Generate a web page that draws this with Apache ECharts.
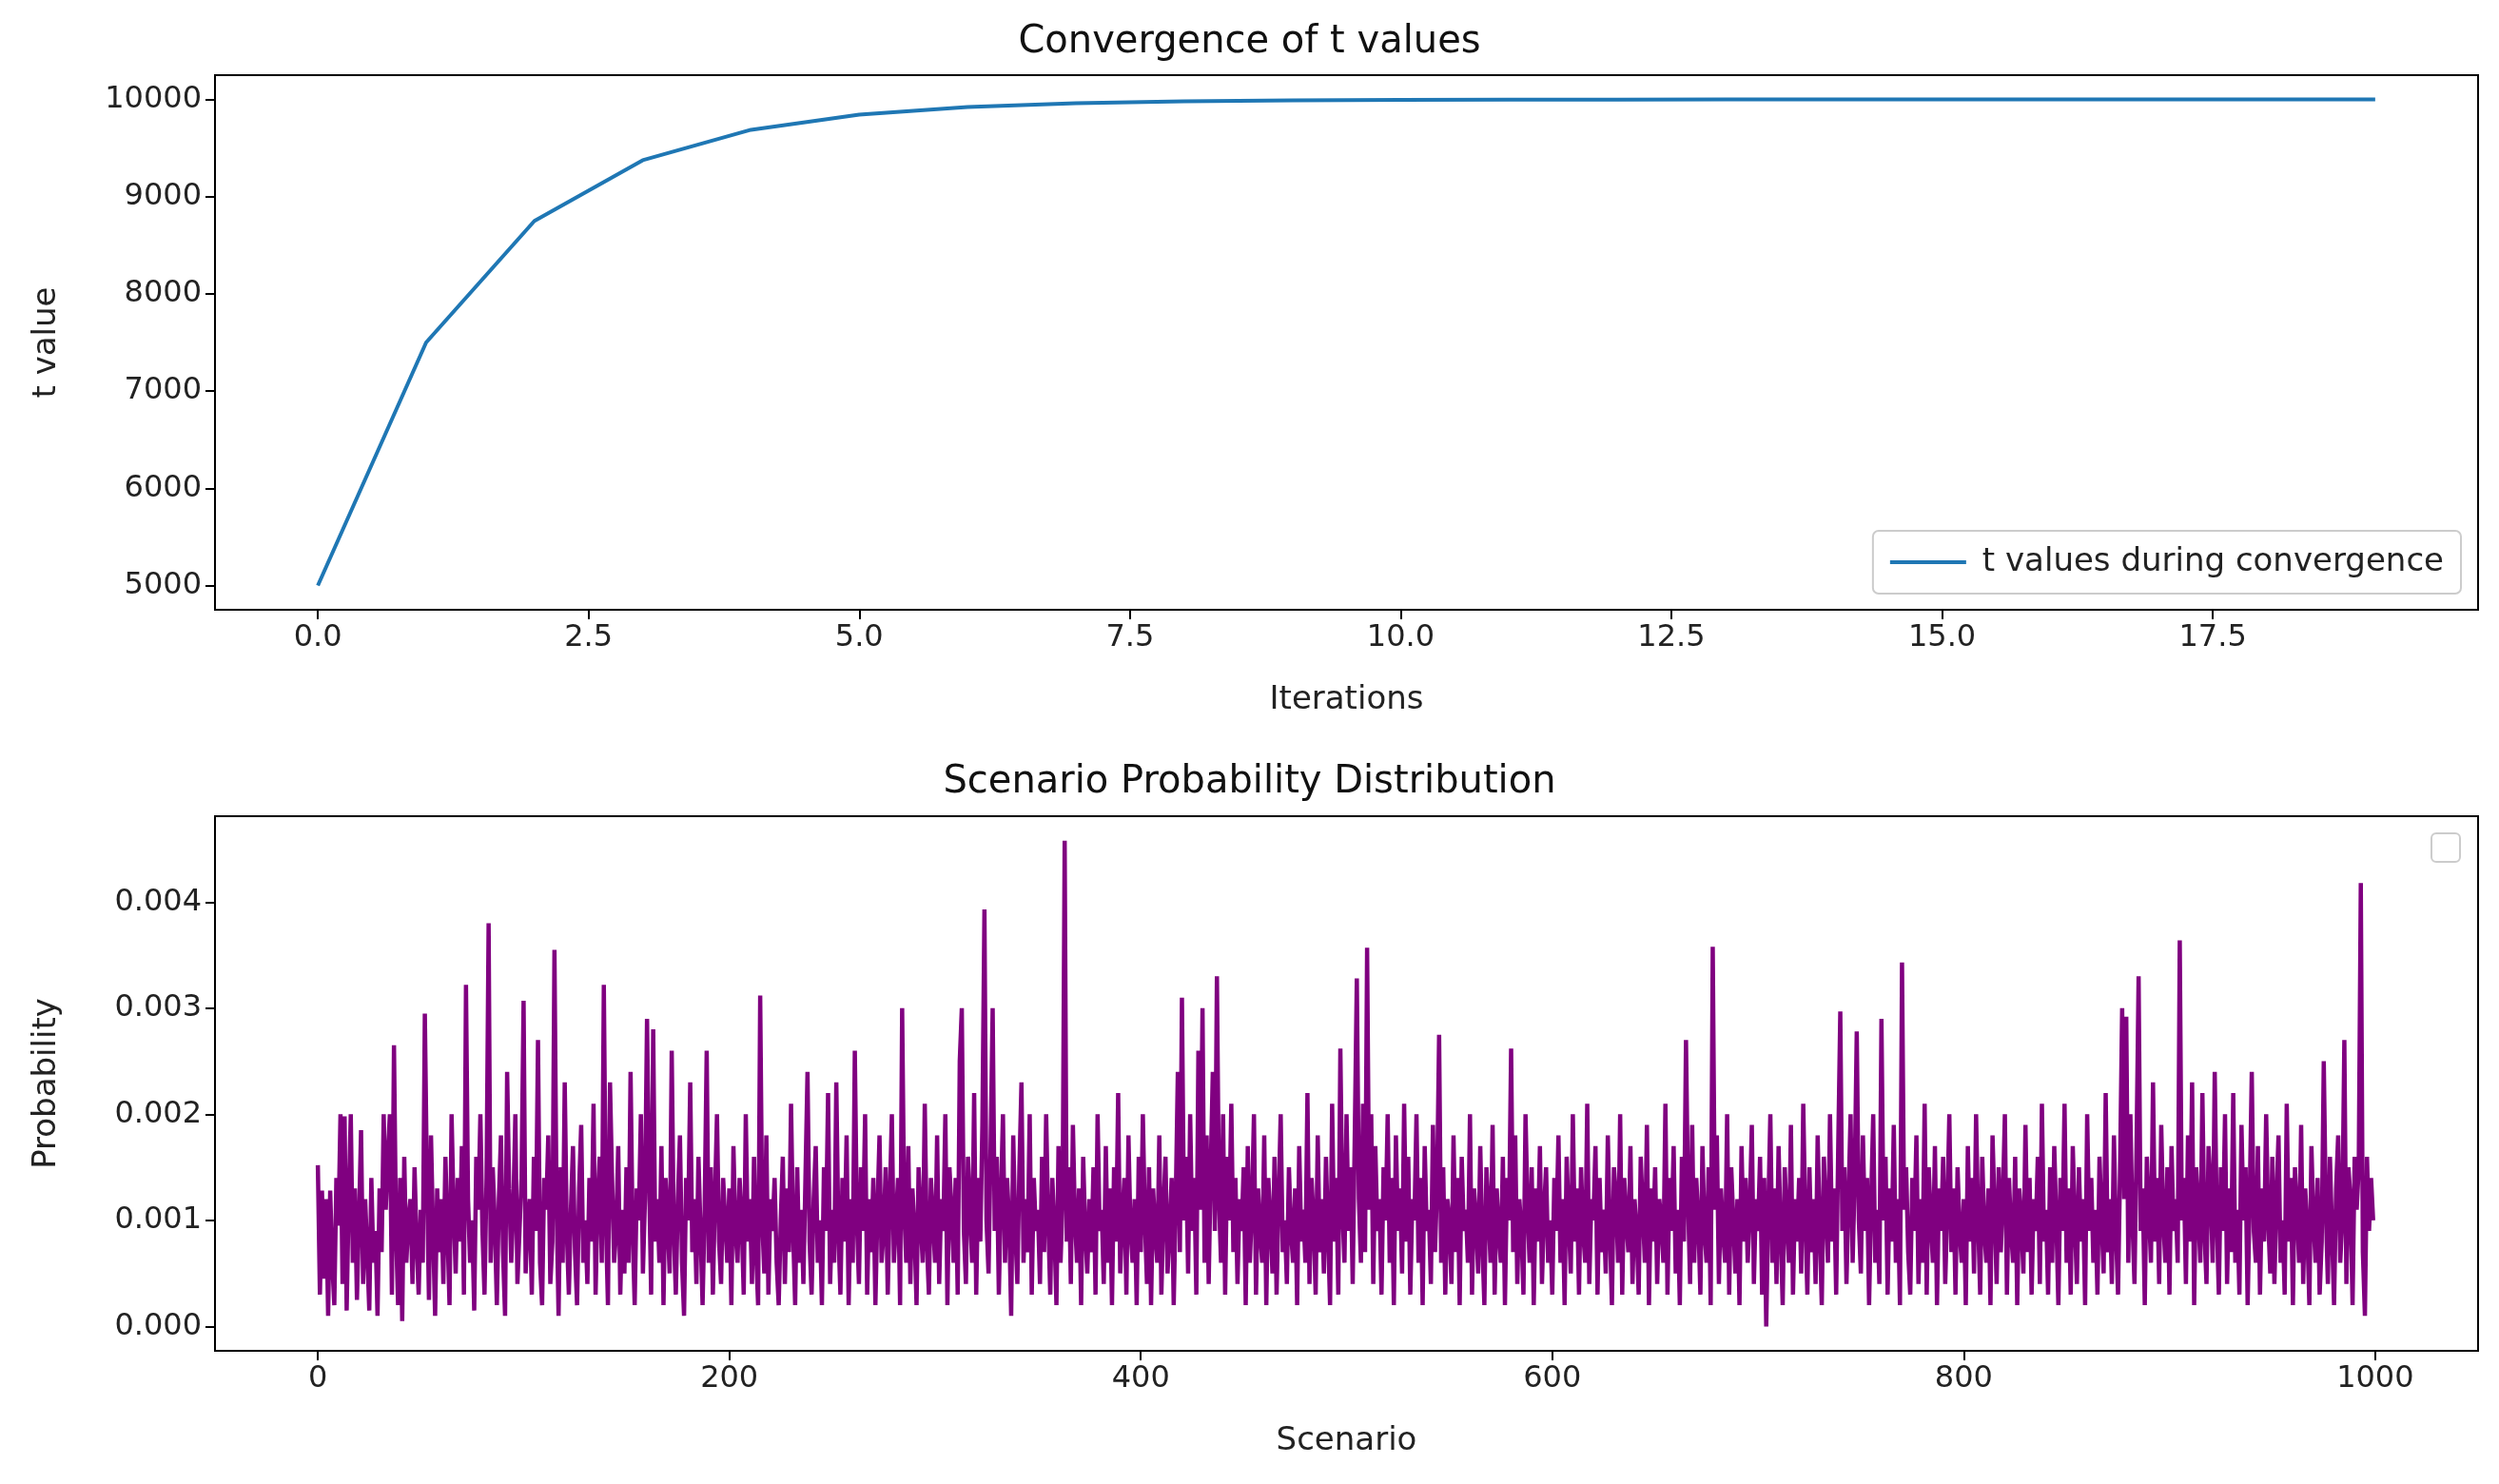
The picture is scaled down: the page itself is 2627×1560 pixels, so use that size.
<!DOCTYPE html>
<html>
<head>
<meta charset="utf-8">
<script src="https://cdn.jsdelivr.net/npm/echarts@6/dist/echarts.min.js"></script>
<style>html,body{margin:0;padding:0;background:#fff}#c{width:2627px;height:1560px}</style>
</head>
<body>
<div id="c"></div>
<script>
// t values per iteration
const iterations = [0,1,2,3,4,5,6,7,8,9,10,11,12,13,14,15,16,17,18,19];
const tValues = [5000,7500,8750,9375,9688,9844,9922,9961,9980,9990,9995,9998,9999,10000,10000,10000,10000,10000,10000,10000];
const iterTicks = [0,2.5,5,7.5,10,12.5,15,17.5];
const tTicks = [5000,6000,7000,8000,9000,10000];

// scenario probabilities, in units of 1e-5
const probE5 = [
152,30,128,45,120,10,128,60,20,140,95,200,40,198,15,120,200,60,130,25,100,185,40,120,70,
15,140,60,90,10,130,70,200,110,160,200,30,265,90,20,140,5,160,60,100,120,40,150,80,30,
110,60,295,140,25,180,90,10,130,70,120,40,160,90,20,200,110,50,140,80,170,30,322,120,60,
100,15,160,110,200,90,30,140,380,60,150,100,20,120,180,70,10,240,130,60,110,200,40,90,140,
307,50,100,120,30,160,90,270,60,20,140,110,180,40,80,355,120,10,150,60,230,90,30,110,170,
70,20,130,190,60,100,40,140,80,210,30,120,160,60,322,100,20,230,140,60,90,170,30,110,50,
150,60,240,90,20,130,100,200,50,120,290,140,30,280,80,120,60,170,20,140,100,50,260,90,30,
120,180,60,10,140,100,230,70,120,40,160,90,20,110,260,60,150,30,120,200,80,40,140,100,60,
130,20,170,90,60,140,100,30,200,80,120,40,160,70,20,312,100,50,180,30,120,90,140,60,20,
100,160,40,130,70,210,90,20,150,60,110,40,140,240,80,30,120,170,60,100,20,150,90,220,40,
110,60,230,90,30,140,80,180,20,120,60,260,100,40,150,90,200,30,120,70,140,20,110,180,60,
90,150,30,120,200,60,100,140,20,300,110,60,170,40,130,90,20,150,100,60,210,80,30,140,100,
60,180,40,120,90,200,20,150,110,60,140,30,250,300,90,40,160,110,60,220,30,140,80,190,393,
100,50,170,300,90,160,30,120,200,60,140,100,10,180,90,40,150,230,60,120,70,200,30,140,90,
110,40,160,70,200,100,30,140,90,20,170,60,120,458,80,150,40,190,100,60,130,20,160,90,50,
120,70,150,30,200,90,110,40,170,60,130,20,150,80,220,50,100,140,30,180,90,60,120,20,160,
70,200,100,40,150,20,130,90,60,180,30,110,160,50,90,140,20,120,240,70,310,100,160,50,200,
90,140,30,260,110,300,60,180,40,150,240,90,330,120,60,200,30,160,100,210,70,140,40,120,90,
150,20,170,60,110,200,30,130,90,60,180,20,140,100,50,160,30,120,200,70,100,40,150,90,60,
130,20,170,80,110,60,220,40,140,100,30,180,70,120,50,160,90,20,210,80,140,30,262,110,60,
200,90,150,40,180,328,120,60,210,70,357,110,200,40,170,90,120,30,150,100,200,60,140,20,180,
90,130,50,210,80,160,30,120,100,200,60,140,20,170,90,110,40,190,70,130,275,60,150,30,120,
100,40,180,70,140,20,160,90,110,60,200,30,130,100,50,170,80,20,150,110,60,190,30,130,90,
60,160,20,140,100,262,70,180,40,120,90,30,200,110,60,150,20,130,80,170,40,110,150,60,100,
30,140,90,180,60,120,20,160,100,50,200,80,130,30,150,90,60,210,40,120,100,170,30,140,70,
110,50,180,90,20,150,120,60,200,30,140,100,70,170,40,120,90,30,160,110,60,190,20,130,80,
150,40,120,100,60,210,30,140,90,170,50,110,20,160,80,270,120,40,190,60,140,100,30,170,90,
60,150,20,358,110,180,40,130,90,60,200,30,150,100,50,120,20,170,80,140,60,110,190,40,120,
90,160,30,140,0,110,200,60,130,40,170,90,20,150,100,60,190,30,120,80,140,50,210,100,30,
150,70,120,40,180,90,20,160,110,60,200,80,130,30,170,297,90,150,40,120,200,60,140,278,100,
50,180,90,140,20,120,200,60,110,40,290,100,160,30,130,80,190,60,120,20,343,110,150,70,30,
140,90,180,40,120,60,210,30,150,100,60,170,20,130,90,160,40,110,200,70,130,30,150,90,60,
120,20,170,80,140,50,200,100,30,160,90,60,130,20,180,110,40,150,70,120,200,30,140,90,60,
160,20,130,100,50,190,70,140,30,120,90,160,40,210,80,110,30,150,60,170,100,20,140,90,210,
60,130,30,170,100,40,150,80,120,20,200,90,140,60,110,30,160,100,50,220,70,120,40,180,90,
30,150,300,120,292,60,200,100,40,170,330,90,130,20,160,110,60,230,80,140,40,190,100,60,150,
30,170,90,120,60,364,100,140,40,180,80,230,20,150,110,60,220,90,40,170,130,60,240,100,30,
150,90,200,40,130,70,220,60,110,30,190,100,150,20,120,240,90,60,170,30,130,80,200,100,50,
160,40,120,180,60,100,30,210,80,140,20,150,110,60,190,40,130,90,20,170,100,60,140,30,80,
250,110,40,160,90,20,130,180,60,100,270,40,150,120,20,160,110,150,418,70,10,160,90,140,100
];
const scenTicks = [0,200,400,600,800,1000];
const probTicks = [0,0.001,0.002,0.003,0.004];

const font = 'DejaVu Sans';
const axisCommon = {
  axisLine: {show: true, onZero: false, lineStyle: {color: '#000', width: 2}},
  axisTick: {show: true, inside: false, length: 10, lineStyle: {color: '#000', width: 2}},
  axisLabel: {color: '#222', fontSize: 32, fontFamily: font, margin: 14},
  splitLine: {show: false},
  nameTextStyle: {color: '#222', fontSize: 34, fontFamily: font}
};
function ax(extra, ticks, fmt) {
  return Object.assign({}, axisCommon, extra, {
    axisTick: Object.assign({}, axisCommon.axisTick, {customValues: ticks}),
    axisLabel: Object.assign({}, axisCommon.axisLabel, {customValues: ticks, formatter: fmt})
  });
}

const chart = echarts.init(document.getElementById('c'));
chart.setOption({
  animation: false,
  backgroundColor: '#fff',
  title: [
    {text: 'Convergence of t values', left: 'center', top: 20, textStyle: {fontSize: 40, fontWeight: 'normal', fontFamily: font, color: '#111'}},
    {text: 'Scenario Probability Distribution', left: 'center', top: 798, textStyle: {fontSize: 40, fontWeight: 'normal', fontFamily: font, color: '#111'}}
  ],
  legend: {
    data: ['t values during convergence'],
    right: 40, top: 558, itemWidth: 80, itemHeight: 4, itemGap: 28,
    padding: [16, 18], borderColor: '#ccc', borderWidth: 2, borderRadius: 6,
    textStyle: {fontSize: 34, fontFamily: font, color: '#222', padding: [0, 0, 0, 12]},
    icon: 'rect'
  },
  grid: [
    {left: 226, right: 22, top: 79, height: 562, show: true, borderColor: '#000', borderWidth: 2},
    {left: 226, right: 22, top: 858, height: 562, show: true, borderColor: '#000', borderWidth: 2}
  ],
  xAxis: [
    ax({type: 'value', gridIndex: 0, min: -0.95, max: 19.95, name: 'Iterations', nameLocation: 'middle', nameGap: 78}, iterTicks, v => v.toFixed(1)),
    ax({type: 'value', gridIndex: 1, min: -50, max: 1050, name: 'Scenario', nameLocation: 'middle', nameGap: 78}, scenTicks, v => String(v))
  ],
  yAxis: [
    ax({type: 'value', gridIndex: 0, min: 4750, max: 10250, name: 't value', nameLocation: 'middle', nameGap: 160}, tTicks, v => String(v)),
    ax({type: 'value', gridIndex: 1, min: -0.00023, max: 0.00481, name: 'Probability', nameLocation: 'middle', nameGap: 160}, probTicks, v => v.toFixed(3))
  ],
  graphic: [
    {type: 'rect', right: 40, top: 875, shape: {width: 30, height: 30, r: 5}, style: {fill: '#fff', stroke: '#ccc', lineWidth: 2}}
  ],
  series: [
    {
      name: 't values during convergence', type: 'line', xAxisIndex: 0, yAxisIndex: 0,
      data: iterations.map((x, i) => [x, tValues[i]]),
      showSymbol: false, lineStyle: {color: '#1f77b4', width: 4}, itemStyle: {color: '#1f77b4'}
    },
    {
      name: 'prob', type: 'line', xAxisIndex: 1, yAxisIndex: 1,
      data: probE5.map((v, i) => [i, v / 1e5]),
      showSymbol: false, lineStyle: {color: '#800080', width: 4.5}, itemStyle: {color: '#800080'}
    }
  ]
});
</script>
</body>
</html>
